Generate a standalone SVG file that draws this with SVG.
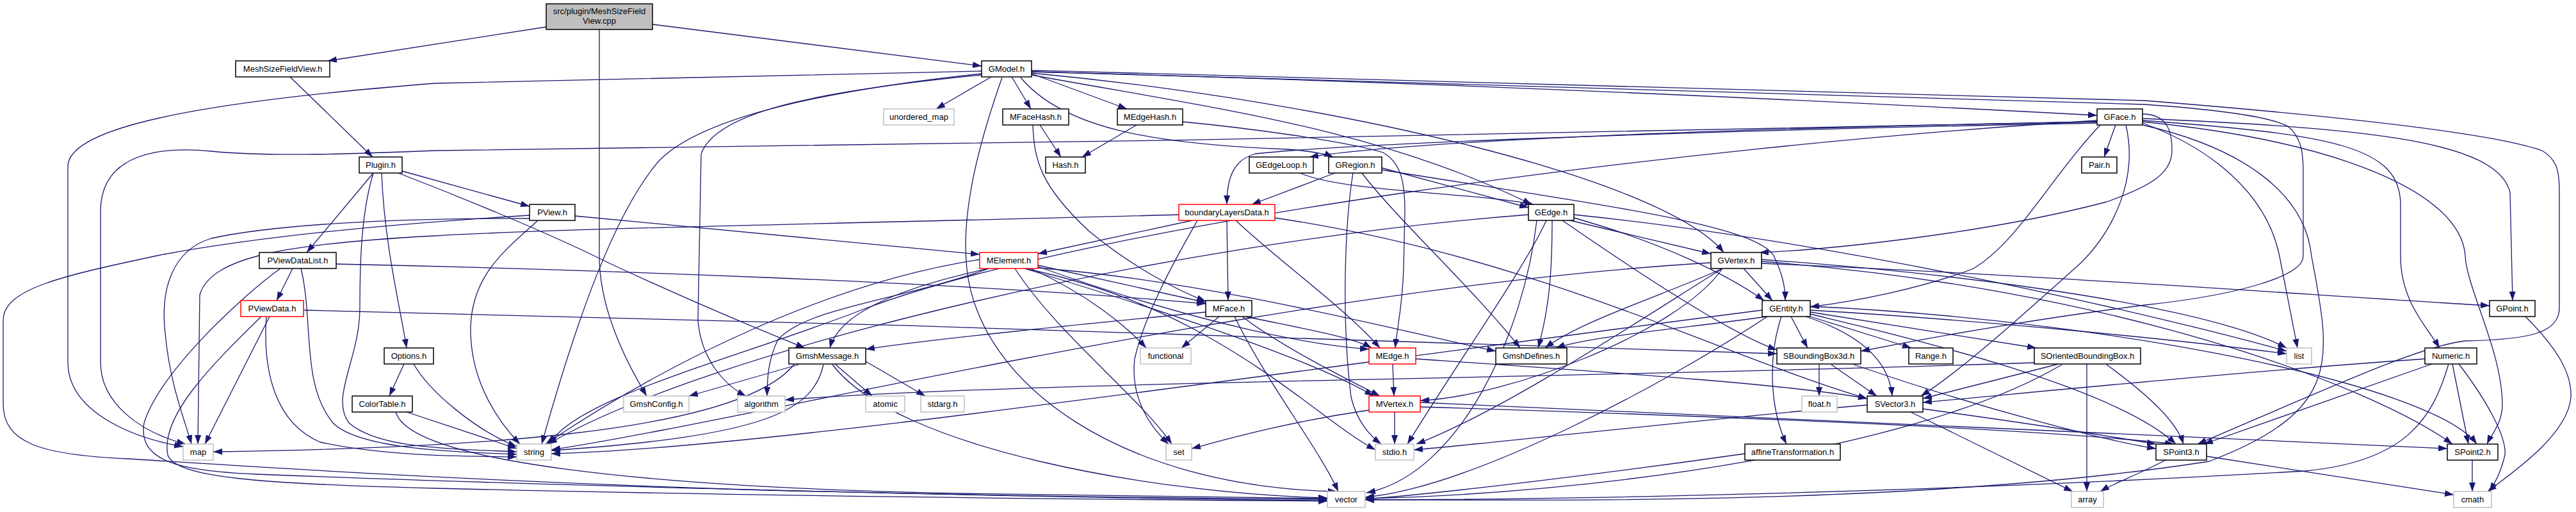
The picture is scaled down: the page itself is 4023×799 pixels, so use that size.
<svg xmlns="http://www.w3.org/2000/svg" width="4023" height="799" viewBox="0 0 4023 799">
<defs>
<marker id="a" markerUnits="userSpaceOnUse" viewBox="0 0 14 10" refX="14" refY="5" markerWidth="14" markerHeight="10" orient="auto"><path d="M0,0L14,5L0,10z" fill="#191970"/></marker>
<style>
.e path{fill:none;stroke:#191970;stroke-width:1.3;marker-end:url(#a)}
.n rect{fill:#fff;stroke:#000;stroke-width:1.5}
.s rect{stroke:#bfbfbf}
.r rect{stroke:#ff0000}
.root rect{fill:#bfbfbf}
text{font-family:"Liberation Sans",Arial,Helvetica,sans-serif;font-size:13px;fill:#000;text-anchor:middle}
</style>
</defs>
<rect width="4023" height="799" fill="#fff"/>
<g id="connectors" class="e">
<path d="M853,42 L512,95"/>
<path d="M1019,38 L1533,103"/>
<path d="M936,46 L936,400 C936,480 975,560 1010,618"/>
<path d="M453,120 L582,245"/>
<path d="M628,267 L827,322"/>
<path d="M583,270 L479,394"/>
<path d="M596,270 C600,380 625,480 635,543"/>
<path d="M622,270 C700,300 850,360 950,410 C1100,480 1200,520 1257,543"/>
<path d="M583,270 C565,330 562,400 562,480 C562,560 515,620 545,660 C590,700 700,700 807,705"/>
<path d="M827,341 C600,340 420,352 330,372 C270,390 250,450 258,520 C265,600 290,660 299,693"/>
<path d="M827,336 C600,350 400,370 250,398 C100,430 5,450 5,500 L5,630 C5,690 60,710 200,716 C350,725 700,750 1200,765 C1600,775 1900,778 2073,779"/>
<path d="M840,344 C790,390 733,430 735,520 C737,600 780,660 812,693"/>
<path d="M898,337 C1200,365 1400,385 1530,397"/>
<path d="M457,419 L432,469"/>
<path d="M438,419 C380,460 250,580 225,660 C215,720 280,735 400,740 C900,760 1700,778 2073,781"/>
<path d="M470,419 C490,500 470,600 520,660 C560,700 700,705 807,709"/>
<path d="M525,412 C900,420 1500,440 1883,474"/>
<path d="M421,494 L320,693"/>
<path d="M408,494 C330,570 250,650 262,710 C275,745 400,755 680,762 C1200,775 1800,780 2073,782"/>
<path d="M416,494 C410,580 430,660 500,690 C600,712 720,712 807,713"/>
<path d="M474,484 C1200,500 2200,530 2775,552"/>
<path d="M631,568 L608,618"/>
<path d="M646,568 C670,610 740,670 807,697"/>
<path d="M635,643 L807,700"/>
<path d="M618,643 C640,720 1000,760 1500,770 C1800,776 2000,777 2073,778"/>
<path d="M1247,569 L1076,618"/>
<path d="M1240,569 C1150,680 700,700 333,705"/>
<path d="M1286,569 C1270,640 1200,680 861,703"/>
<path d="M1300,569 C1400,700 1800,770 2073,777"/>
<path d="M1305,569 L1362,618"/>
<path d="M1352,564 L1445,618"/>
<path d="M1533,111 L680,130 C300,160 106,200 106,260 L106,565 C106,640 200,682 286,697"/>
<path d="M1533,115 C1300,140 1100,180 1030,250 C960,330 900,500 846,693"/>
<path d="M1533,117 C1300,140 1120,170 1095,240 L1090,500 C1095,560 1130,600 1165,618"/>
<path d="M1565,121 C1530,220 1500,330 1510,420 C1530,600 1750,760 2088,767"/>
<path d="M1548,120 L1462,170"/>
<path d="M1580,120 L1610,170"/>
<path d="M1611,115 L1760,170"/>
<path d="M1611,112 C2300,130 2900,160 3275,180"/>
<path d="M1594,121 C1660,200 1800,225 2010,233 C2050,236 2070,240 2082,245"/>
<path d="M1611,117 C1900,170 2150,200 2392,319"/>
<path d="M1611,114 C2100,160 2600,280 2692,394"/>
<path d="M1611,112 C2300,130 3000,150 3350,163 C3450,170 3540,180 3573,197 C3595,215 3597,240 3597,270 L3597,400 C3597,430 3500,460 3350,476 C3200,495 3050,520 2906,548"/>
<path d="M1611,110 C2300,125 3000,145 3350,157 C3700,185 3900,210 3970,235 C3995,250 3997,270 3997,300 L3997,480 C3997,520 3950,530 3850,532 C3780,540 3650,600 3432,693"/>
<path d="M1624,195 L1657,245"/>
<path d="M1613,195 C1615,250 1625,290 1700,360 C1760,410 1830,450 1883,470"/>
<path d="M1775,195 L1690,245"/>
<path d="M1847,190 C1950,200 2100,220 2160,238 C2190,255 2194,290 2194,330 L2192,420 C2190,480 2182,510 2179,543"/>
<path d="M3304,195 L3286,245"/>
<path d="M3275,190 C2700,200 2200,220 2045,245"/>
<path d="M3280,195 C3200,280 3150,380 3080,420 C3000,450 2900,470 2827,479"/>
<path d="M3346,185 C3700,200 3900,220 3920,300 L3924,469"/>
<path d="M3346,190 C3650,220 3843,300 3850,399 C3852,449 3908,549 3908,632 C3908,660 3890,680 3884,693"/>
<path d="M3346,188 C3650,210 3749,230 3749,320 L3749,400 C3749,470 3790,510 3810,543"/>
<path d="M3346,192 C3450,230 3540,300 3560,400 L3588,543"/>
<path d="M3346,195 C3500,230 3600,300 3610,400 C3640,560 3660,640 3450,720 C3000,790 2400,780 2132,780"/>
<path d="M3275,190 C2500,210 1500,225 680,235 C560,240 420,245 330,236 C230,226 157,250 157,330 L157,565 C157,630 220,675 290,693"/>
<path d="M3275,188 C2600,230 1700,350 1350,482 C1150,560 900,620 858,693"/>
<path d="M3275,192 C2600,205 2100,225 1960,240 C1925,250 1916,280 1916,319"/>
<path d="M3320,195 C3340,280 3300,360 3250,410 C3150,500 3060,580 3000,618"/>
<path d="M3346,178 C3385,178 3392,205 3392,235 C3392,270 3360,290 3290,315 C3100,365 2850,390 2748,394"/>
<path d="M2030,270 C2100,300 2300,300 2395,319"/>
<path d="M2158,262 L2387,324"/>
<path d="M2158,265 C2500,320 2740,350 2770,399 C2785,430 2788,450 2788,469"/>
<path d="M2085,270 L1955,319"/>
<path d="M2113,270 C2100,350 2095,500 2110,620 C2120,660 2140,680 2157,693"/>
<path d="M2127,270 C2180,340 2300,450 2374,543"/>
<path d="M1841,335 C1500,345 900,355 680,368 C450,380 330,400 312,460 L309,693"/>
<path d="M1870,344 C1850,380 1790,480 1772,560 C1765,620 1795,665 1825,693"/>
<path d="M1862,344 L1621,396"/>
<path d="M1916,344 L1918,469"/>
<path d="M1930,344 C2000,410 2100,480 2155,543"/>
<path d="M1991,340 C2400,400 2700,560 2916,622"/>
<path d="M2452,344 L2672,396"/>
<path d="M2458,340 C2600,380 2700,430 2755,469"/>
<path d="M2424,344 C2424,420 2420,480 2402,543"/>
<path d="M2458,335 C2900,380 3400,500 3571,548"/>
<path d="M2387,335 C1800,380 1100,550 856,693"/>
<path d="M2400,344 C2380,520 2280,740 2134,769"/>
<path d="M2415,344 C2380,420 2280,560 2198,693"/>
<path d="M2440,344 C2550,420 2700,520 2775,546"/>
<path d="M2723,419 L2768,469"/>
<path d="M2751,411 C3200,430 3600,460 3888,477"/>
<path d="M2690,419 C2600,460 2470,500 2413,543"/>
<path d="M2751,405 C3100,430 3450,480 3571,543"/>
<path d="M2672,410 C2000,450 1200,650 861,702"/>
<path d="M2690,419 C2560,500 2350,640 2212,693"/>
<path d="M2690,419 C2620,520 2350,620 2218,625"/>
<path d="M2751,408 C3300,450 3700,600 3830,693"/>
<path d="M1621,414 L1883,472"/>
<path d="M1621,416 C1800,480 2000,535 2138,545"/>
<path d="M1600,419 C1800,480 2050,560 2145,618"/>
<path d="M1545,419 C1400,450 1310,490 1296,543"/>
<path d="M1621,418 C1900,440 2200,520 2336,548"/>
<path d="M1530,405 C1300,440 1050,560 852,693"/>
<path d="M1600,419 C1900,480 2050,650 2148,702"/>
<path d="M1545,419 C1400,470 1260,480 1215,530 C1200,560 1198,590 1198,618"/>
<path d="M1585,419 C1650,520 1780,620 1830,693"/>
<path d="M1610,419 C1700,460 1760,510 1790,543"/>
<path d="M2797,494 L2823,543"/>
<path d="M2827,494 L2985,543"/>
<path d="M2827,487 L3180,543"/>
<path d="M2782,494 C2760,560 2765,640 2790,693"/>
<path d="M2820,494 C2900,520 2950,560 2955,618"/>
<path d="M2827,490 C2950,520 3300,600 3398,693"/>
<path d="M2827,478 C3300,500 3800,600 3868,693"/>
<path d="M2827,484 C3100,500 3400,530 3571,552"/>
<path d="M2752,484 C2000,580 1200,700 861,708"/>
<path d="M2760,494 C2600,600 2300,760 2132,776"/>
<path d="M2760,494 C2650,510 2480,525 2430,543"/>
<path d="M1904,494 L1845,543"/>
<path d="M1883,487 C1650,510 1450,530 1352,545"/>
<path d="M1945,494 C2020,510 2110,525 2142,543"/>
<path d="M1940,494 C2000,540 2100,590 2155,618"/>
<path d="M1928,494 C1980,600 2060,700 2090,767"/>
<path d="M2175,568 L2177,618"/>
<path d="M2211,560 C2500,580 2800,600 2916,622"/>
<path d="M2178,643 L2178,693"/>
<path d="M2138,640 C2000,660 1900,690 1861,700"/>
<path d="M2218,628 C3000,660 3600,690 3822,700"/>
<path d="M2218,635 C2700,650 3200,670 3395,693"/>
<path d="M2841,568 L2841,618"/>
<path d="M2860,569 L2931,618"/>
<path d="M2895,569 C3100,640 3300,690 3367,700"/>
<path d="M3215,568 L3003,622"/>
<path d="M3290,569 C3360,620 3400,660 3410,693"/>
<path d="M3259,568 L3259,767"/>
<path d="M3220,569 C3000,700 2500,770 2132,778"/>
<path d="M3177,566 C2500,590 1600,595 1226,624"/>
<path d="M3798,568 L3442,693"/>
<path d="M3830,568 L3855,693"/>
<path d="M3840,568 C3880,620 3915,680 3912,710 C3905,740 3895,755 3888,767"/>
<path d="M3824,568 C3800,650 3760,720 3600,735 C3000,770 2400,780 2132,780"/>
<path d="M3787,560 C3500,580 3200,610 3003,628"/>
<path d="M3003,638 C3200,665 3320,685 3367,693"/>
<path d="M2984,643 L3237,767"/>
<path d="M2916,632 C2600,660 2350,690 2208,702"/>
<path d="M2725,708 C2500,740 2250,770 2132,779"/>
<path d="M3446,712 C3600,735 3750,760 3832,772"/>
<path d="M3382,718 C3340,740 3300,755 3280,767"/>
<path d="M3861,718 L3861,767"/>
<path d="M3944,494 C3990,540 4017,580 4015,620 C4010,680 3920,740 3885,767"/>
</g>
<g id="node-root" class="n root"><rect x="853" y="6" width="166" height="40"/><text x="936" y="22">src/plugin/MeshSizeField</text><text x="936" y="37">View.cpp</text></g>
<g id="node-MeshSizeFieldView" class="n"><rect x="368" y="95" width="147" height="25"/><text x="441.5" y="112">MeshSizeFieldView.h</text></g>
<g id="node-GModel" class="n"><rect x="1533" y="95" width="78" height="25"/><text x="1572" y="112">GModel.h</text></g>
<g id="node-unordered_map" class="n s"><rect x="1380" y="170" width="110" height="25"/><text x="1435" y="187">unordered_map</text></g>
<g id="node-MFaceHash" class="n"><rect x="1566" y="170" width="103" height="25"/><text x="1617.5" y="187">MFaceHash.h</text></g>
<g id="node-MEdgeHash" class="n"><rect x="1745" y="170" width="102" height="25"/><text x="1796" y="187">MEdgeHash.h</text></g>
<g id="node-GFace" class="n"><rect x="3275" y="170" width="71" height="25"/><text x="3310.5" y="187">GFace.h</text></g>
<g id="node-Plugin" class="n"><rect x="561" y="245" width="67" height="25"/><text x="594.5" y="262">Plugin.h</text></g>
<g id="node-Hash" class="n"><rect x="1633" y="245" width="62" height="25"/><text x="1664" y="262">Hash.h</text></g>
<g id="node-GEdgeLoop" class="n"><rect x="1951" y="245" width="100" height="25"/><text x="2001" y="262">GEdgeLoop.h</text></g>
<g id="node-GRegion" class="n"><rect x="2075" y="245" width="83" height="25"/><text x="2116.5" y="262">GRegion.h</text></g>
<g id="node-Pair" class="n"><rect x="3251" y="245" width="55" height="25"/><text x="3278.5" y="262">Pair.h</text></g>
<g id="node-PView" class="n"><rect x="827" y="319" width="71" height="25"/><text x="862.5" y="336">PView.h</text></g>
<g id="node-boundaryLayersData" class="n r"><rect x="1841" y="319" width="150" height="25"/><text x="1916" y="336">boundaryLayersData.h</text></g>
<g id="node-GEdge" class="n"><rect x="2387" y="319" width="71" height="25"/><text x="2422.5" y="336">GEdge.h</text></g>
<g id="node-PViewDataList" class="n"><rect x="405" y="394" width="120" height="25"/><text x="465" y="411">PViewDataList.h</text></g>
<g id="node-MElement" class="n r"><rect x="1530" y="394" width="91" height="25"/><text x="1575.5" y="411">MElement.h</text></g>
<g id="node-GVertex" class="n"><rect x="2672" y="394" width="79" height="25"/><text x="2711.5" y="411">GVertex.h</text></g>
<g id="node-PViewData" class="n r"><rect x="376" y="469" width="98" height="25"/><text x="425" y="486">PViewData.h</text></g>
<g id="node-MFace" class="n"><rect x="1883" y="469" width="72" height="25"/><text x="1919" y="486">MFace.h</text></g>
<g id="node-GEntity" class="n"><rect x="2752" y="469" width="75" height="25"/><text x="2789.5" y="486">GEntity.h</text></g>
<g id="node-GPoint" class="n"><rect x="3888" y="469" width="71" height="25"/><text x="3923.5" y="486">GPoint.h</text></g>
<g id="node-Options" class="n"><rect x="600" y="543" width="77" height="25"/><text x="638.5" y="560">Options.h</text></g>
<g id="node-GmshMessage" class="n"><rect x="1232" y="543" width="120" height="25"/><text x="1292" y="560">GmshMessage.h</text></g>
<g id="node-functional" class="n s"><rect x="1781" y="543" width="79" height="25"/><text x="1820.5" y="560">functional</text></g>
<g id="node-MEdge" class="n r"><rect x="2138" y="543" width="73" height="25"/><text x="2174.5" y="560">MEdge.h</text></g>
<g id="node-GmshDefines" class="n"><rect x="2336" y="543" width="111" height="25"/><text x="2391.5" y="560">GmshDefines.h</text></g>
<g id="node-SBoundingBox3d" class="n"><rect x="2775" y="543" width="131" height="25"/><text x="2840.5" y="560">SBoundingBox3d.h</text></g>
<g id="node-Range" class="n"><rect x="2981" y="543" width="69" height="25"/><text x="3015.5" y="560">Range.h</text></g>
<g id="node-SOrientedBoundingBox" class="n"><rect x="3177" y="543" width="166" height="25"/><text x="3260" y="560">SOrientedBoundingBox.h</text></g>
<g id="node-list" class="n s"><rect x="3571" y="543" width="39" height="25"/><text x="3590.5" y="560">list</text></g>
<g id="node-Numeric" class="n"><rect x="3787" y="543" width="81" height="25"/><text x="3827.5" y="560">Numeric.h</text></g>
<g id="node-ColorTable" class="n"><rect x="550" y="618" width="94" height="25"/><text x="597" y="635">ColorTable.h</text></g>
<g id="node-GmshConfig" class="n s"><rect x="974" y="618" width="102" height="25"/><text x="1025" y="635">GmshConfig.h</text></g>
<g id="node-algorithm" class="n s"><rect x="1152" y="618" width="74" height="25"/><text x="1189" y="635">algorithm</text></g>
<g id="node-atomic" class="n s"><rect x="1352" y="618" width="61" height="25"/><text x="1382.5" y="635">atomic</text></g>
<g id="node-stdarg" class="n s"><rect x="1438" y="618" width="68" height="25"/><text x="1472" y="635">stdarg.h</text></g>
<g id="node-MVertex" class="n r"><rect x="2138" y="618" width="80" height="25"/><text x="2178" y="635">MVertex.h</text></g>
<g id="node-float" class="n s"><rect x="2814" y="618" width="55" height="25"/><text x="2841.5" y="635">float.h</text></g>
<g id="node-SVector3" class="n"><rect x="2916" y="618" width="87" height="25"/><text x="2959.5" y="635">SVector3.h</text></g>
<g id="node-map" class="n s"><rect x="286" y="693" width="47" height="25"/><text x="309.5" y="710">map</text></g>
<g id="node-string" class="n s"><rect x="807" y="693" width="54" height="25"/><text x="834" y="710">string</text></g>
<g id="node-set" class="n s"><rect x="1821" y="693" width="40" height="25"/><text x="1841" y="710">set</text></g>
<g id="node-stdio" class="n s"><rect x="2148" y="693" width="60" height="25"/><text x="2178" y="710">stdio.h</text></g>
<g id="node-affineTransformation" class="n"><rect x="2725" y="693" width="149" height="25"/><text x="2799.5" y="710">affineTransformation.h</text></g>
<g id="node-SPoint3" class="n"><rect x="3367" y="693" width="79" height="25"/><text x="3406.5" y="710">SPoint3.h</text></g>
<g id="node-SPoint2" class="n"><rect x="3822" y="693" width="79" height="25"/><text x="3861.5" y="710">SPoint2.h</text></g>
<g id="node-vector" class="n s"><rect x="2073" y="767" width="59" height="25"/><text x="2102.5" y="784">vector</text></g>
<g id="node-array" class="n s"><rect x="3235" y="767" width="50" height="25"/><text x="3260" y="784">array</text></g>
<g id="node-cmath" class="n s"><rect x="3832" y="767" width="59" height="25"/><text x="3861.5" y="784">cmath</text></g>
</svg>
